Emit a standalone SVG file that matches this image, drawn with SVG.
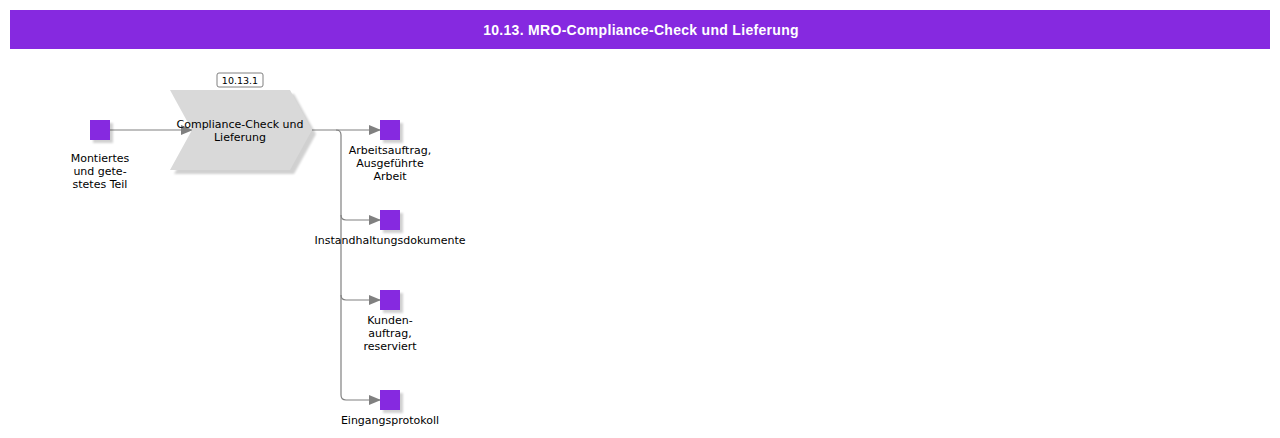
<svg xmlns="http://www.w3.org/2000/svg" width="1280" height="438" viewBox="0 0 1280 438">
<style>
.t{font-family:"DejaVu Sans",Verdana,sans-serif;font-size:11px;fill:#000;text-anchor:middle}
.ev{fill:#8629E0}
.sh{fill:#000;opacity:0.18}
.c{fill:none;stroke:#808080;stroke-width:1.2}
</style>
<defs>
<marker id="a" markerWidth="12" markerHeight="10" refX="11" refY="5" orient="auto" markerUnits="userSpaceOnUse">
<path d="M0,0 L12,5 L0,10 Z" fill="#808080"/>
</marker>
<filter id="b" x="-20%" y="-20%" width="140%" height="140%"><feGaussianBlur stdDeviation="1.2"/></filter>
</defs>
<rect x="0" y="0" width="1280" height="438" fill="#fff"/>
<g id="header">
<rect x="10" y="10" width="1260" height="39" fill="#8629E0"/>
<text x="641" y="35" style="font-family:'Liberation Sans',Arial,sans-serif;font-size:14px;letter-spacing:0.3px;font-weight:bold;fill:#fff;text-anchor:middle">10.13. MRO-Compliance-Check und Lieferung</text>
</g>
<g id="connectors">
<path class="c" d="M110,130 H192" marker-end="url(#a)"/>
<path class="c" d="M312,130 H380" marker-end="url(#a)"/>
<path class="c" d="M336,130 Q341,130 341,135 V395 Q341,400 346,400 H380" marker-end="url(#a)"/>
<path class="c" d="M341,215 Q341,220 346,220 H380" marker-end="url(#a)"/>
<path class="c" d="M341,295 Q341,300 346,300 H380" marker-end="url(#a)"/>
</g>
<g id="n_input">
<rect class="sh" x="93" y="123" width="20" height="20" filter="url(#b)"/>
<rect class="ev" x="90" y="120" width="20" height="20"/>
<text class="t" x="100" y="162">Montiertes</text>
<text class="t" x="100" y="175">und gete-</text>
<text class="t" x="100" y="188">stetes Teil</text>
</g>
<g id="n_func">
<polygon points="174,94 294,94 316,134 294,174 174,174 196,134" fill="#000" opacity="0.18" filter="url(#b)"/>
<polygon points="170,90 290,90 312,130 290,170 170,170 192,130" fill="#d9d9d9"/>
<rect x="217" y="73" width="46" height="14" rx="2" fill="#fff" stroke="#808080" stroke-width="1"/>
<text x="240" y="84" style="font-family:'DejaVu Sans',Verdana,sans-serif;font-size:9.5px;fill:#000;text-anchor:middle">10.13.1</text>
<text class="t" x="240" y="128">Compliance-Check und</text>
<text class="t" x="240" y="141">Lieferung</text>
</g>
<g id="n_out1">
<rect class="sh" x="383" y="123" width="20" height="20" filter="url(#b)"/>
<rect class="ev" x="380" y="120" width="20" height="20"/>
<text class="t" x="390" y="154">Arbeitsauftrag,</text>
<text class="t" x="390" y="167">Ausgeführte</text>
<text class="t" x="390" y="180">Arbeit</text>
</g>
<g id="n_out2">
<rect class="sh" x="383" y="213" width="20" height="20" filter="url(#b)"/>
<rect class="ev" x="380" y="210" width="20" height="20"/>
<text class="t" x="390" y="244">Instandhaltungsdokumente</text>
</g>
<g id="n_out3">
<rect class="sh" x="383" y="293" width="20" height="20" filter="url(#b)"/>
<rect class="ev" x="380" y="290" width="20" height="20"/>
<text class="t" x="390" y="324">Kunden-</text>
<text class="t" x="390" y="337">auftrag,</text>
<text class="t" x="390" y="350">reserviert</text>
</g>
<g id="n_out4">
<rect class="sh" x="383" y="393" width="20" height="20" filter="url(#b)"/>
<rect class="ev" x="380" y="390" width="20" height="20"/>
<text class="t" x="390" y="424">Eingangsprotokoll</text>
</g>
</svg>
